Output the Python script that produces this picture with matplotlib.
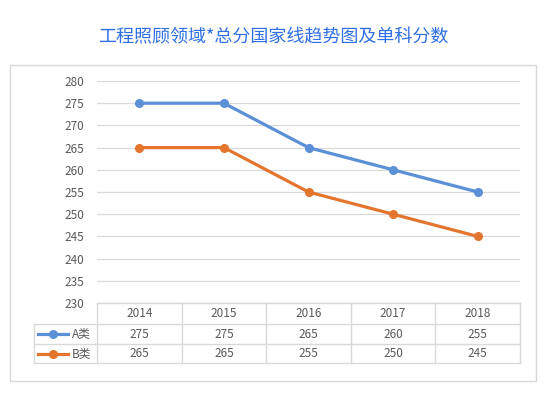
import numpy as np
import matplotlib.pyplot as plt
from matplotlib.patches import Rectangle
from matplotlib.lines import Line2D

plt.rcParams['font.family'] = ['Noto Sans CJK SC', 'DejaVu Sans']

# data
years = ['2014', '2015', '2016', '2017', '2018']
series_names = ['A类', 'B类']
score_a = [275, 275, 265, 260, 255]
score_b = [265, 265, 255, 250, 245]
colors = ['#5b8fd6', '#e4752e']
title = '工程照顾领域*总分国家线趋势图及单科分数'

W, H = 546, 394
fig = plt.figure(figsize=(W / 100, H / 100), dpi=100)

def box(x0, y0, x1, y1):
    # pixel box (top-left origin) -> figure fraction [l, b, w, h]
    return [x0 / W, 1 - y1 / H, (x1 - x0) / W, (y1 - y0) / H]

# outer chart border
fig.patches.append(Rectangle((9.5 / W, 1 - 380.5 / H), (535.5 - 9.5) / W, (380.5 - 64.5) / H,
                             transform=fig.transFigure, fill=False, ec='#d9d9d9', lw=1.0))

fig.text(273 / W, 1 - 37.5 / H, title, ha='center', va='center', fontsize=13, color='#2f6fe4')

text_c = '#595959'
grid_c = '#d9d9d9'

# main plot
ax = fig.add_axes(box(97, 81, 520, 303))
x = np.arange(len(years))
for vals, c in zip([score_a, score_b], colors):
    ax.plot(x, vals, color=c, lw=2.3, marker='o', ms=5.5, zorder=3)
ax.set_xlim(-0.5, len(years) - 0.5)
ax.set_ylim(230, 280)
ax.set_yticks(np.arange(230, 281, 5))
ax.set_xticks([])
ax.grid(axis='y', color=grid_c, lw=0.9)
ax.set_axisbelow(True)
for s in ax.spines.values():
    s.set_visible(False)
ax.tick_params(axis='y', length=0, pad=9, labelsize=8.5, labelcolor=text_c)

# data table below the plot
col_w = (520 - 97) / len(years)
leg_cols = (97 - 34) / col_w
tax = fig.add_axes(box(34, 303, 520, 363))
tax.set_xlim(-0.5 - leg_cols, len(years) - 0.5)
tax.set_ylim(3, 0)
tax.axis('off')
row_h = [0, 1.05, 2.05, 3]  # header, A, B row boundaries (scaled)
lk = dict(color=grid_c, lw=1.0, clip_on=False)
left = -0.5 - leg_cols
right = len(years) - 0.5
tax.plot([-0.5, right], [0, 0], **lk)
for yb in row_h[1:]:
    tax.plot([left, right], [yb, yb], **lk)
tax.plot([left, left], [row_h[1], 3], **lk)
for i in range(len(years) + 1):
    tax.plot([i - 0.5, i - 0.5], [0, 3], **lk)
for i, yr in enumerate(years):
    tax.text(i, row_h[0] / 2 + row_h[1] / 2, yr, ha='center', va='center', fontsize=8.5, color=text_c)
for r, (name, vals, c) in enumerate(zip(series_names, [score_a, score_b], colors)):
    yc = (row_h[r + 1] + row_h[r + 2]) / 2
    for i, v in enumerate(vals):
        tax.text(i, yc, str(v), ha='center', va='center', fontsize=8.5, color=text_c)
    x0 = left + 4 / col_w
    x1 = left + 34 / col_w
    tax.add_line(Line2D([x0, x1], [yc, yc], color=c, lw=2.3, clip_on=False))
    tax.plot([(x0 + x1) / 2], [yc], 'o', color=c, ms=5.5, clip_on=False)
    tax.text(left + 38 / col_w, yc, name, ha='left', va='center', fontsize=8.5, color=text_c)

fig.savefig('out.png', dpi=100)
